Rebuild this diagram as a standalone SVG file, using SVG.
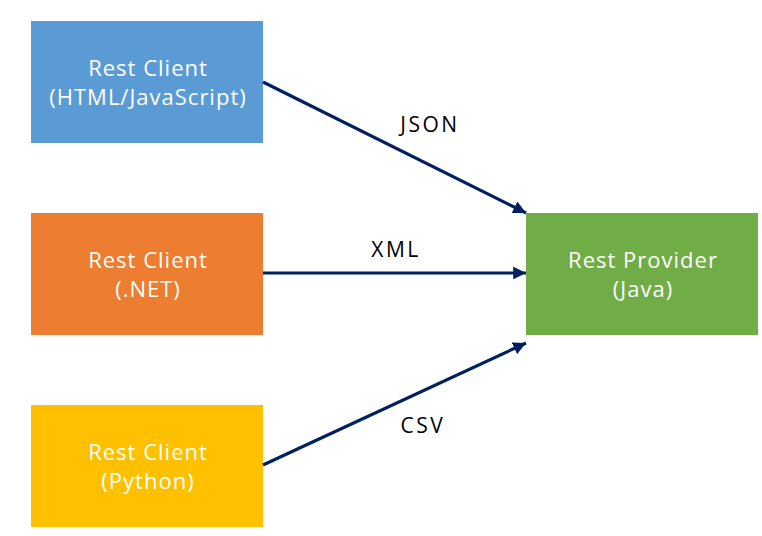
<svg xmlns="http://www.w3.org/2000/svg" width="762" height="536" viewBox="0 0 762 536">
<defs>
<marker id="ah" markerWidth="4" markerHeight="4" refX="4" refY="2" orient="auto" markerUnits="strokeWidth">
<path d="M0,0 L4,2 L0,4 Z" fill="#002060"/>
</marker>
<style>
.lbl{font-family:"Open Sans","Liberation Sans",sans-serif;font-size:22px;letter-spacing:1px;fill:#fff;text-anchor:middle}
.el{font-family:"Open Sans","Liberation Sans",sans-serif;font-size:21px;letter-spacing:2.5px;fill:#000;text-anchor:middle}
.ln{stroke:#002060;stroke-width:3.2;fill:none;marker-end:url(#ah)}
</style>
</defs>
<rect width="762" height="536" fill="#fff"/>
<g id="client-js">
<rect x="31" y="21" width="232" height="122" fill="#5B9BD5"/>
<text class="lbl" x="148" y="76">Rest Client</text>
<text class="lbl" x="148" y="105">(HTML/JavaScript)</text>
</g>
<g id="client-net">
<rect x="31" y="213" width="232" height="122" fill="#ED7D31"/>
<text class="lbl" x="148" y="268">Rest Client</text>
<text class="lbl" x="148" y="297">(.NET)</text>
</g>
<g id="client-py">
<rect x="31" y="405" width="232" height="122" fill="#FFC000"/>
<text class="lbl" x="148" y="460">Rest Client</text>
<text class="lbl" x="148" y="489">(Python)</text>
</g>
<g id="provider">
<rect x="526" y="213" width="232" height="122" fill="#70AD47"/>
<text class="lbl" x="643" y="268">Rest Provider</text>
<text class="lbl" x="643" y="297">(Java)</text>
</g>
<g id="connectors">
<line class="ln" x1="263" y1="82" x2="526" y2="213"/>
<line class="ln" x1="263" y1="273" x2="526" y2="273"/>
<line class="ln" x1="263" y1="465" x2="526" y2="343"/>
<text class="el" x="430" y="132">JSON</text>
<text class="el" x="396" y="257">XML</text>
<text class="el" x="423" y="433">CSV</text>
</g>
</svg>
